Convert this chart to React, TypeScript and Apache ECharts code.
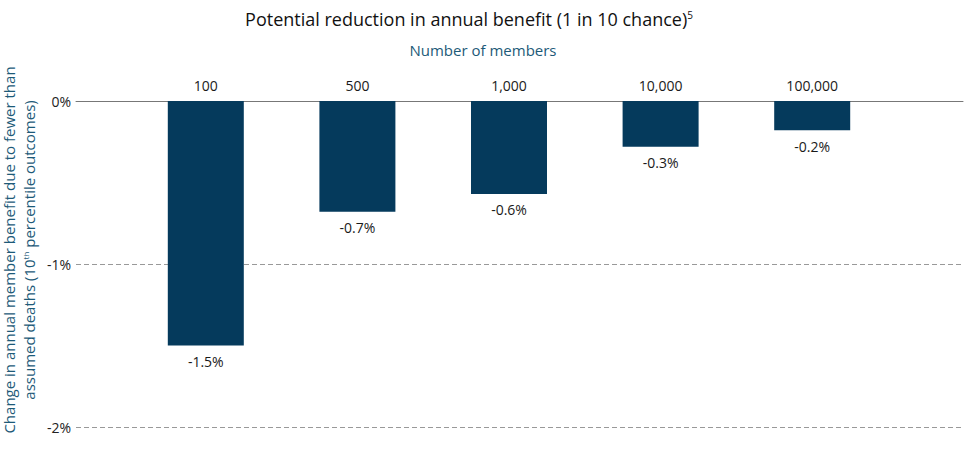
import React, { useEffect, useRef } from "react";
import * as echarts from "echarts";

const categories = ["100", "500", "1,000", "10,000", "100,000"];
const values = [-1.5, -0.68, -0.57, -0.28, -0.18];
const yTicks = { min: -2, max: 0, interval: 1 };

const FONT = "'Open Sans', 'Noto Sans', sans-serif";

export default function App() {
  const ref = useRef<HTMLDivElement>(null);
  useEffect(() => {
    document.body.style.margin = "0";
    if (!ref.current) return;
    const chart = echarts.init(ref.current, undefined, { renderer: "svg" });
    const gridTop = 101;
    const gridBottom = 22;
    chart.setOption({
      animation: false,
      textStyle: { fontFamily: FONT },
      grid: [
        { left: 76, right: 12, top: gridTop, bottom: gridBottom },
        { left: 130, right: 87, top: gridTop, bottom: gridBottom },
      ],
      xAxis: [
        {
          gridIndex: 0,
          type: "value",
          position: "top",
          min: 0,
          max: 1,
          axisLine: { show: true, onZero: false, lineStyle: { color: "#777", width: 1 } },
          axisTick: { show: false },
          axisLabel: { show: false },
          splitLine: { show: false },
        },
        {
          gridIndex: 1,
          type: "category",
          position: "top",
          data: categories,
          axisLine: { show: false },
          axisTick: { show: false },
          axisLabel: {
            color: "#1a1a1a",
            fontSize: 14,
            fontWeight: 500,
            fontFamily: FONT,
            margin: 9,
          },
        },
      ],
      yAxis: [
        {
          gridIndex: 0,
          type: "value",
          min: yTicks.min,
          max: yTicks.max,
          interval: yTicks.interval,
          axisLine: { show: false },
          axisTick: { show: false },
          axisLabel: {
            color: "#222",
            fontSize: 14,
            fontWeight: 500,
            fontFamily: FONT,
            margin: 5,
            formatter: (v: number) => `${v}%`,
          },
          splitLine: {
            show: true,
            lineStyle: { color: "#999", type: [5, 3], width: 1 },
          },
        },
        {
          gridIndex: 1,
          type: "value",
          min: yTicks.min,
          max: yTicks.max,
          interval: yTicks.interval,
          show: false,
          splitLine: { show: false },
        },
      ],
      series: [
        {
          type: "bar",
          xAxisIndex: 1,
          yAxisIndex: 1,
          data: values,
          barWidth: 76,
          itemStyle: { color: "#053a5c" },
          label: {
            show: true,
            position: "bottom",
            distance: 9,
            color: "#1a1a1a",
            fontSize: 14,
            fontWeight: 500,
            fontFamily: FONT,
            formatter: (p: any) => `${p.value.toFixed(1)}%`,
          },
        },
      ],
      graphic: [
        {
          type: "text",
          x: 469,
          y: 19,
          style: {
            text: "{t|Potential reduction in annual benefit (1 in 10 chance)}{s|5}",
            align: "center",
            verticalAlign: "middle",
            rich: {
              t: { fontSize: 18, fontFamily: FONT, fill: "#111" },
              s: { fontSize: 10, fontFamily: FONT, fill: "#111", verticalAlign: "top", padding: [0, 0, 8, 0] },
            },
          },
        },
        {
          type: "text",
          x: 483,
          y: 50,
          style: {
            text: "Number of members",
            align: "center",
            verticalAlign: "middle",
            fontSize: 15,
            fontFamily: FONT,
            fill: "#1d5a78",
          },
        },
        {
          type: "text",
          x: 9,
          y: 250,
          rotation: Math.PI / 2,
          style: {
            text: "Change in annual member benefit due to fewer than",
            align: "center",
            verticalAlign: "middle",
            fontSize: 15,
            fontFamily: FONT,
            fill: "#1d5a78",
          },
        },
        {
          type: "text",
          x: 29,
          y: 250,
          rotation: Math.PI / 2,
          style: {
            text: "{a|assumed deaths (10}{b|th}{a| percentile outcomes)}",
            align: "center",
            verticalAlign: "middle",
            rich: {
              a: { fontSize: 15, fontFamily: FONT, fill: "#1d5a78" },
              b: { fontSize: 8, fontFamily: FONT, fill: "#1d5a78", verticalAlign: "top", padding: [0, 0, 8, 0] },
            },
          },
        },
      ],
    });
    return () => chart.dispose();
  }, []);
  return <div ref={ref} style={{ width: 975, height: 449 }} />;
}
